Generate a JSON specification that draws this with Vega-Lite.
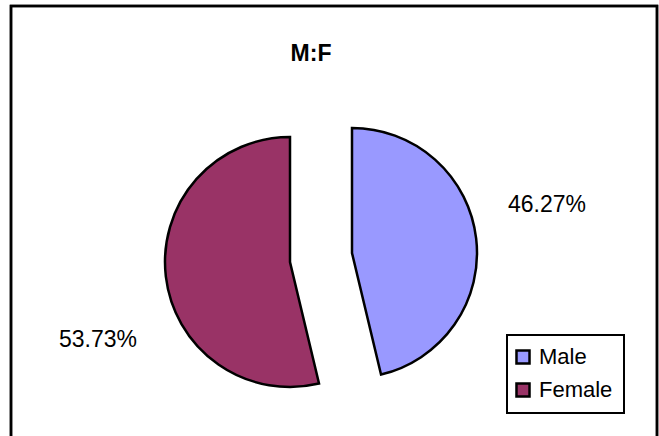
{
  "$schema": "https://vega.github.io/schema/vega-lite/v6.json",
  "width": 646,
  "height": 432,
  "autosize": {"type": "none"},
  "padding": {"left": 11, "top": 6, "right": 2, "bottom": 0},
  "background": "white",
  "title": {
    "text": "M:F",
    "font": "Liberation Sans",
    "fontSize": 23,
    "fontWeight": "bold",
    "color": "black",
    "anchor": "middle",
    "baseline": "alphabetic",
    "offset": -57,
    "dx": -23,
    "dy": 22
  },
  "data": {
    "values": [
      {"sex": "Male", "value": 46.27, "label": "46.27%"},
      {"sex": "Female", "value": 53.73, "label": "53.73%"}
    ]
  },
  "encoding": {
    "theta": {"field": "value", "type": "quantitative", "stack": true},
    "order": {"field": "sex", "sort": "descending"}
  },
  "layer": [
    {
      "mark": {"type": "rect", "fill": null, "fillOpacity": 0, "stroke": "black", "strokeWidth": 2.5},
      "encoding": {"theta": null, "order": null}
    },
    {
      "mark": {"type": "arc", "radius": 125, "stroke": "black", "strokeWidth": 2.5, "xOffset": 18, "yOffset": 31},
      "encoding": {
        "color": {
          "field": "sex", "type": "nominal",
          "scale": {"domain": ["Male", "Female"], "range": ["#9999FF", "#993366"]},
          "legend": {
            "title": null,
            "orient": "none",
            "legendX": 496,
            "legendY": 329,
            "strokeColor": "black",
            "padding": 11,
            "symbolType": "square",
            "symbolSize": 170,
            "symbolOffset": -6,
            "symbolStrokeColor": "black",
            "symbolStrokeWidth": 2.5,
            "labelFont": "Liberation Sans",
            "labelFontSize": 22,
            "labelColor": "black",
            "labelOffset": 5,
            "rowPadding": 9
          }
        },
        "opacity": {"condition": {"test": "datum.sex === 'Male'", "value": 1}, "value": 0}
      }
    },
    {
      "mark": {"type": "arc", "radius": 125, "stroke": "black", "strokeWidth": 2.5, "xOffset": -44, "yOffset": 40},
      "encoding": {
        "color": {"field": "sex", "type": "nominal"},
        "opacity": {"condition": {"test": "datum.sex === 'Female'", "value": 1}, "value": 0}
      }
    },
    {
      "mark": {"type": "text", "radius": 157, "xOffset": 18, "yOffset": 31, "dy": -30, "align": "left", "baseline": "middle", "font": "Liberation Sans", "fontSize": 23, "color": "black"},
      "encoding": {
        "text": {"condition": {"test": "datum.sex === 'Male'", "field": "label"}, "value": ""}
      }
    },
    {
      "mark": {"type": "text", "radius": 154, "xOffset": -44, "yOffset": 40, "dy": 60, "align": "right", "baseline": "middle", "font": "Liberation Sans", "fontSize": 23, "color": "black"},
      "encoding": {
        "text": {"condition": {"test": "datum.sex === 'Female'", "field": "label"}, "value": ""}
      }
    }
  ],
  "config": {
    "view": {"stroke": null},
    "legend": {"strokeWidth": 2},
    "font": "Liberation Sans"
  }
}
